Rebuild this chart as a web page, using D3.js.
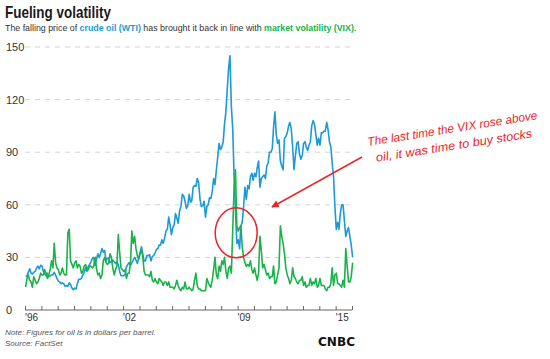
<!DOCTYPE html>
<html>
<head>
<meta charset="utf-8">
<script src="https://cdn.jsdelivr.net/npm/d3@7"></script>
<style>
  body { margin: 0; background: #fff; }
  svg text { font-family: "Liberation Sans", Arial, sans-serif; }
</style>
</head>
<body>
<script>
// monthly values, Jan 1996 .. Jan 2016
var oil = [
  19, 19.5, 21.5, 23.5, 21, 20.5, 21.5, 22, 24, 25, 23.5, 25.5,      // 1996
  25, 22, 20.5, 19.5, 21, 19, 19.5, 20, 20, 21.5, 20, 18,            // 1997
  16.5, 16, 15, 15.5, 15, 13.5, 14, 13.5, 15.5, 14.5, 12.5, 11.5,    // 1998
  12.5, 12, 15, 17.5, 17.5, 18, 20, 21.5, 24, 22, 25, 26,            // 1999
  27.5, 29.5, 30, 25.5, 29, 32, 30, 32, 35, 33, 34, 28,              // 2000
  29.5, 29.5, 27, 27.5, 28.5, 27.5, 26.5, 27.5, 26, 22, 19.5, 19.5,  // 2001
  19.5, 20.5, 24.5, 26, 27, 25.5, 27, 28.5, 30, 28.5, 26.5, 29.5,    // 2002
  33, 36, 32, 28, 28, 31, 31, 31.5, 28, 30.5, 31, 32.5,              // 2003
  34.5, 35, 37, 37, 40, 38, 41, 45, 46, 53, 48.5, 43,                // 2004
  47, 48.5, 55, 52.5, 49.5, 56.5, 59, 66, 65, 62, 58, 59.5,          // 2005
  66, 61.5, 62.5, 70, 71, 70.5, 75, 72.5, 63, 59, 59.5, 62,          // 2006
  53, 59, 60, 64, 63.5, 67.5, 75, 71.5, 80, 87, 95, 91.5,            // 2007
  93, 96, 106, 113, 126, 138, 145, 116, 103, 76, 57, 38,             // 2008
  40, 35, 48, 50, 59, 70, 63, 71, 69, 76, 78, 74,                    // 2009
  78, 76, 81, 85, 70, 75, 76, 77, 75, 82, 84, 90,                    // 2010
  90, 92, 104, 113, 100, 95, 97, 85, 82, 80, 98, 99,                 // 2011
  101, 105, 107, 103, 93, 80, 88, 95, 96, 89, 86, 88,                // 2012
  95, 96, 93, 91, 94, 96, 105, 108, 106, 100, 94, 98,                // 2013
  94, 101, 101, 102, 102, 107, 103, 96, 93, 84, 76, 59,              // 2014
  46, 50, 46, 55, 60, 60, 51, 42, 45, 47, 42, 37,                    // 2015
  30                                                                 // 2016
];

var vix = [
  13, 18, 20, 17, 16, 13, 19, 17, 15, 16, 18, 21,    // 1996
  20, 20, 23, 21, 18, 20, 23, 28, 24, 38, 27, 24,    // 1997
  23, 20, 21, 24, 21, 20, 20, 44, 46, 28, 26, 24,    // 1998
  27, 28, 24, 26, 25, 21, 22, 25, 26, 23, 23, 25,    // 1999
  25, 24, 25, 30, 24, 20, 21, 18, 20, 28, 30, 27,    // 2000
  26, 27, 32, 30, 24, 20, 23, 25, 43, 33, 24, 23,    // 2001
  22, 23, 18, 21, 21, 27, 45, 38, 42, 35, 31, 29,    // 2002
  32, 34, 31, 22, 20, 20, 20, 19, 22, 17, 16, 18,    // 2003
  16, 15, 18, 17, 16, 14, 16, 16, 14, 16, 13, 13,    // 2004
  13, 12, 14, 17, 14, 12, 11, 13, 12, 16, 12, 12,    // 2005
  13, 12, 11, 12, 17, 21, 14, 12, 12, 11, 11, 11,    // 2006
  11, 18, 16, 14, 13, 17, 23, 30, 20, 18, 25, 22,    // 2007
  28, 26, 30, 22, 18, 24, 25, 21, 46, 70, 80, 48,    // 2008
  45, 47, 48, 36, 30, 27, 25, 26, 25, 28, 23, 21,    // 2009
  24, 20, 17, 21, 42, 34, 24, 26, 23, 20, 21, 18,    // 2010
  19, 19, 25, 15, 16, 20, 24, 48, 42, 38, 32, 24,    // 2011
  20, 18, 15, 17, 24, 19, 18, 16, 15, 17, 17, 19,    // 2012
  14, 16, 13, 14, 14, 18, 14, 16, 15, 18, 13, 14,    // 2013
  18, 14, 14, 14, 12, 11, 13, 13, 15, 24, 14, 20,    // 2014
  21, 15, 15, 14, 13, 17, 13, 35, 25, 16, 16, 19,    // 2015
  27                                                 // 2016
];

var yTicks = [0, 30, 60, 90, 120, 150];
var labelYears = [1996, 2002, 2009, 2015];
var noteLines = ["Note: Figures for oil is in dollars per barrel.", "Source: FactSet"];
var calloutLines = ["The last time the VIX rose above", "oil, it was time to buy stocks"];

var oilColor = "#1c9ad6", vixColor = "#19b24b", red = "#e8262b";

var svg = d3.select("body").append("svg")
  .attr("width", 550)
  .attr("height", 359);

var x = d3.scaleTime()
  .domain([new Date(1996, 0, 1), new Date(2016, 0, 1)])
  .range([25, 352]);
var y = d3.scaleLinear().domain([0, 150]).range([310, 47]);

var dates = oil.map(function(d, i) { return new Date(1996, i, 15); });

// title + subtitle
svg.append("text")
  .attr("x", 5).attr("y", 18)
  .attr("font-size", 17).attr("font-weight", "bold").attr("fill", "#1a1a1a")
  .attr("textLength", 106).attr("lengthAdjust", "spacingAndGlyphs")
  .text("Fueling volatility");

var sub = svg.append("text")
  .attr("x", 5).attr("y", 31)
  .attr("font-size", 11).attr("fill", "#333");
sub.append("tspan").text("The falling price of ");
sub.append("tspan").attr("fill", oilColor).attr("font-weight", "bold").text("crude oil (WTI)");
sub.append("tspan").text(" has brought it back in line with ");
sub.append("tspan").attr("fill", vixColor).attr("font-weight", "bold").text("market volatility (VIX)");
sub.append("tspan").text(".");
// shrink to the width the subtitle takes in the original
var subW = sub.node().getComputedTextLength();
sub.attr("font-size", 11 * 352 / subW);

// grid + y labels
svg.append("g").selectAll("line")
  .data(yTicks.filter(function(d) { return d > 0; }))
  .join("line")
    .attr("x1", 25).attr("x2", 352)
    .attr("y1", function(d) { return y(d); })
    .attr("y2", function(d) { return y(d); })
    .attr("stroke", "#d4d4d4")
    .attr("stroke-dasharray", "5,5");

svg.append("g").selectAll("text")
  .data(yTicks)
  .join("text")
    .attr("x", 6)
    .attr("y", function(d) { return y(d) + 4; })
    .attr("font-size", 11).attr("fill", "#333")
    .text(function(d) { return d; });

// x axis, ticks pointing up
var xAxis = d3.axisBottom(x)
  .ticks(d3.timeYear.every(1))
  .tickSize(-4)
  .tickFormat("");

var gx = svg.append("g")
  .attr("transform", "translate(0,310)")
  .call(xAxis);
gx.select(".domain").attr("stroke", "#666").attr("d", "M25,0H352");
gx.selectAll(".tick line").attr("stroke", "#666");

svg.append("g").selectAll("text")
  .data(labelYears)
  .join("text")
    .attr("x", function(d) { return x(new Date(d, 0, 1)); })
    .attr("y", 321)
    .attr("font-size", 10).attr("fill", "#333")
    .text(function(d) { return "'" + String(d).slice(2); });

// series
var line = d3.line()
  .x(function(d, i) { return x(dates[i]); })
  .y(function(d) { return y(d); });

svg.append("path")
  .datum(oil)
  .attr("fill", "none")
  .attr("stroke", oilColor)
  .attr("stroke-width", 1.6)
  .attr("stroke-linejoin", "round")
  .attr("d", line);

svg.append("path")
  .datum(vix)
  .attr("fill", "none")
  .attr("stroke", vixColor)
  .attr("stroke-width", 1.6)
  .attr("stroke-linejoin", "round")
  .attr("d", line);

// annotation: circle, arrow, note
svg.append("defs").append("marker")
  .attr("id", "head")
  .attr("viewBox", "0 0 10 10")
  .attr("refX", 9).attr("refY", 5)
  .attr("markerWidth", 5).attr("markerHeight", 5)
  .attr("orient", "auto")
  .append("path").attr("d", "M0,0L10,5L0,10z").attr("fill", red);

svg.append("ellipse")
  .attr("cx", x(new Date(2008, 11, 1))).attr("cy", y(44))
  .attr("rx", 21).attr("ry", 25)
  .attr("fill", "none").attr("stroke", red).attr("stroke-width", 1.5);

svg.append("line")
  .attr("x1", 362).attr("y1", 157)
  .attr("x2", 272).attr("y2", 207)
  .attr("stroke", red).attr("stroke-width", 1.5)
  .attr("marker-end", "url(#head)");

var callout = svg.append("g")
  .attr("transform", "translate(368,146) rotate(-9)");
callout.selectAll("text")
  .data(calloutLines)
  .join("text")
    .attr("x", function(d, i) { return i * 6; })
    .attr("y", function(d, i) { return i * 17; })
    .attr("font-size", 12).attr("font-style", "italic").attr("fill", red)
    .attr("textLength", function(d, i) { return i ? 158 : 172; })
    .attr("lengthAdjust", "spacingAndGlyphs")
    .text(function(d) { return d; });

// footer
svg.append("g").selectAll("text")
  .data(noteLines)
  .join("text")
    .attr("x", 5)
    .attr("y", function(d, i) { return 335 + i * 11; })
    .attr("font-size", 8).attr("font-style", "italic").attr("fill", "#555")
    .text(function(d) { return d; });

svg.append("text")
  .attr("x", 318).attr("y", 346)
  .attr("font-size", 12).attr("font-weight", "900").attr("fill", "#111")
  .attr("textLength", 37).attr("lengthAdjust", "spacingAndGlyphs")
  .style("font-family", "'DejaVu Sans', sans-serif")
  .text("CNBC");
</script>
</body>
</html>
